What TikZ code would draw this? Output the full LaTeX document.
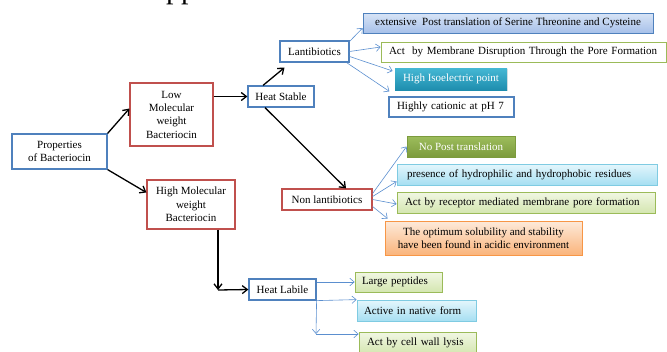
\documentclass[tikz,border=0pt]{standalone}
\usepackage{fontspec}
\setmainfont{Liberation Serif}
\usetikzlibrary{arrows.meta,shadows}
\definecolor{ink}{HTML}{000000}
\definecolor{blueline}{HTML}{4F81BD}
\definecolor{redline}{HTML}{C0504D}
\definecolor{linkblue}{HTML}{5B8FCF}
\definecolor{greenline}{HTML}{9BBB59}
\definecolor{cyanline}{HTML}{7FCBE2}
\definecolor{orangeline}{HTML}{F79646}
\definecolor{blueA}{HTML}{D8E4F6}
\definecolor{blueB}{HTML}{A6C0E9}
\definecolor{tealA}{HTML}{45B8D4}
\definecolor{tealB}{HTML}{1E8DAE}
\definecolor{oliveA}{HTML}{9DBD5C}
\definecolor{oliveB}{HTML}{7C9B3D}
\definecolor{cyanA}{HTML}{E4F6FC}
\definecolor{cyanB}{HTML}{A6DFF2}
\definecolor{greenA}{HTML}{F1F7E3}
\definecolor{greenB}{HTML}{D4E6B0}
\definecolor{orangeA}{HTML}{FDEADA}
\definecolor{orangeB}{HTML}{FAB47B}
\newcommand\boxfont{\fontsize{11}{13.3}\selectfont}
\tikzset{
  box/.style={draw=blueline,line width=1.2pt,fill=white,inner sep=1pt,align=center,font=\boxfont},
  boxr/.style={box,draw=redline},
  item/.style={box,line width=.8pt,drop shadow={opacity=.2,shadow xshift=1pt,shadow yshift=-1pt}},
  itemb/.style={item,draw=blueline,top color=blueA,bottom color=blueB},
  itemg/.style={item,draw=greenline,top color=greenA,bottom color=greenB},
  itemc/.style={item,draw=cyanline,top color=cyanA,bottom color=cyanB},
  itemo/.style={item,draw=orangeline,top color=orangeA,bottom color=orangeB},
  itemt/.style={item,draw=none,top color=tealA,bottom color=tealB,text=white},
  itemv/.style={item,draw=oliveB,top color=oliveA,bottom color=oliveB,text=white},
  lefty/.style={align=left,inner xsep=8pt},
  ar/.style={-{Straight Barb[length=1.8mm,width=2.8mm]},draw=ink,line width=1.3pt},
  arl/.style={-{Straight Barb[length=1.5mm,width=2.6mm]},draw=linkblue,line width=.6pt},
}

\begin{document}
\begin{tikzpicture}[x=1pt,y=-1pt]
  \useasboundingbox (0,0) rectangle (667,351);
  \node[font=\fontsize{30}{30}\selectfont,anchor=base] (ttl) at (181,-1.5) {pp};

  \node[box,minimum width=95pt,minimum height=35pt] (prop) at (59.5,151.5) {Properties\\of Bacteriocin};
  \node[boxr,minimum width=83pt,minimum height=63pt] (low) at (171.5,114.5) {Low\\Molecular\\weight\\Bacteriocin};
  \node[boxr,minimum width=88pt,minimum height=49pt] (high) at (191,204.5) {High Molecular\\weight\\Bacteriocin};
  \node[box,minimum width=66pt,minimum height=21pt] (hs) at (281,96.5) {Heat Stable};
  \node[box,minimum width=67pt,minimum height=21pt] (hl) at (282.5,289.5) {Heat Labile};
  \node[box,minimum width=69pt,minimum height=21pt] (lan) at (314.5,51.5) {Lantibiotics};
  \node[boxr,minimum width=90pt,minimum height=21pt] (non) at (327,199.5) {Non lantibiotics};

  % lantibiotics
  \node[itemb,minimum width=290pt,minimum height=20pt] (l1) at (508,23) {extensive\ \ Post translation of Serine Threonine and Cysteine};
  \node[item,draw=greenline,lefty,text width=269pt,minimum height=20pt] (l2) at (523.5,52) {Act\ \ by Membrane Disruption Through the Pore Formation};
  \node[itemt,minimum width=112pt,minimum height=22pt] (l3) at (451,79) {High Isoelectric point};
  \node[box,lefty,text width=109pt,minimum height=20pt] (l4) at (451.5,107) {Highly cationic at pH 7};

  % non lantibiotics
  \node[itemv,minimum width=108pt,minimum height=21pt] (n1) at (461,146.5) {No Post translation};
  \node[itemc,lefty,inner xsep=10pt,text width=240pt,minimum height=21pt] (n2) at (527,174.5) {presence of hydrophilic and hydrophobic residues};
  \node[itemg,lefty,text width=242pt,minimum height=21pt] (n3) at (526,202.5) {Act by receptor mediated membrane pore formation};
  \node[itemo,minimum width=197pt,minimum height=34pt] (n4) at (483.5,238) {The optimum solubility and stability\\have been found in acidic environment};

  % heat labile
  \node[itemg,lefty,inner xsep=7pt,text width=73pt,minimum height=20pt] (b1) at (398.5,282) {Large peptides};
  \node[itemc,lefty,inner xsep=7pt,text width=105pt,minimum height=21pt] (b2) at (416.5,310.5) {Active in native form};
  \node[itemg,lefty,text width=101pt,minimum height=22pt] (b3) at (417.5,343) {Act by cell wall lysis};

  \draw[ar] (prop.north east) -- ([yshift=6pt]low.west);
  \draw[ar] (prop.south east) -- ([yshift=12pt]high.west);
  \draw[ar] (low.east |- hs.west) -- (hs.west);
  \draw[ar] ([xshift=-18pt]hs.north) -- ([xshift=-30pt,yshift=-5pt]lan.south);
  \draw[ar] ([xshift=-16pt]hs.south) -- ([xshift=19pt]non.north);
  \coordinate (hc) at (218,290);
  \draw[ar] ([xshift=27pt]high.south) -- (hc);
  \draw[ar] (hc) -- (hl.west);

  \draw[arl] ([yshift=-1pt]lan.north east) -- ([yshift=-5pt]l1.west);
  \draw[arl] (lan.east) -- ([yshift=5pt]l2.west);
  \draw[arl] ([yshift=-5pt]lan.east) -- ([xshift=-2pt,yshift=8pt]l3.west);
  \draw[arl] ([xshift=-3pt]lan.south east) -- ([xshift=1pt,yshift=5pt]l4.north west);

  \draw[arl] ([yshift=6pt]non.east) -- (n1.west);
  \draw[arl] ([yshift=3pt]non.east) -- ([yshift=-7pt]n2.west);
  \draw[arl] (non.east) -- ([yshift=-1.5pt]n3.west);
  \draw[arl] ([yshift=-7pt]non.east) -- ([xshift=3pt,yshift=2pt]n4.north west);

  \coordinate (lc) at (316,334);
  \draw[arl] (b1.west -| hl.east) -- (b1.west);
  \draw[arl] (hl.south east) -- (b2.north west);
  \draw[arl] (hl.south east) -- (lc);
  \draw[arl] (lc) -- (lc -| b3.west);
\end{tikzpicture}
\end{document}
